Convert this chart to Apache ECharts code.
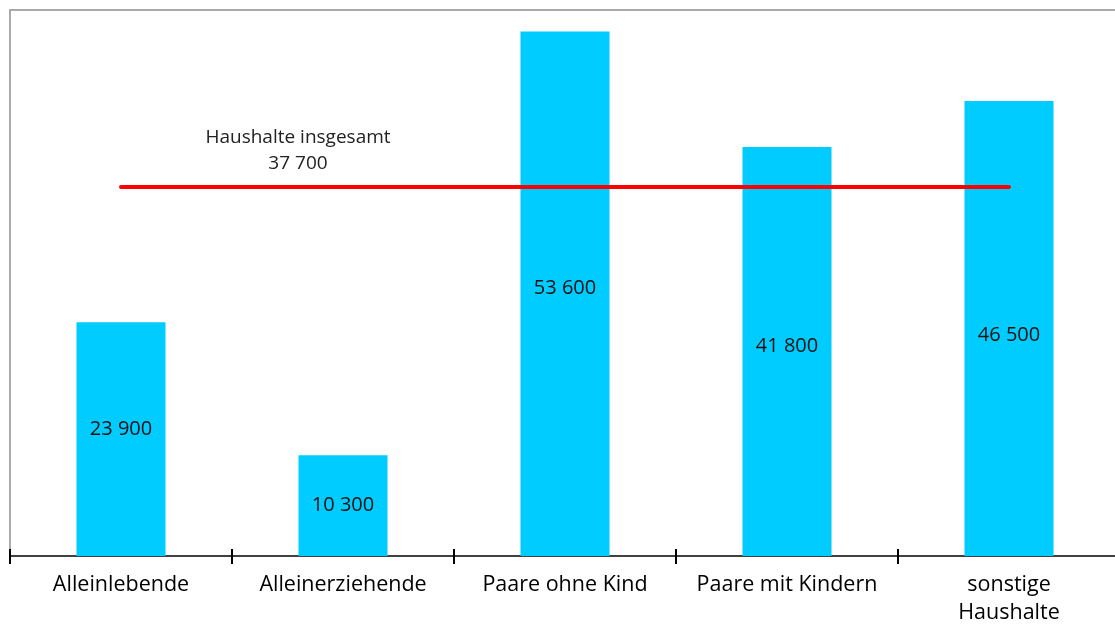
<!DOCTYPE html>
<html>
<head>
<meta charset="utf-8">
<script src="https://cdn.jsdelivr.net/npm/echarts@6/dist/echarts.min.js"></script>
<style>
html,body{margin:0;padding:0;background:#fff;}
#chart{width:1115px;height:624px;}
</style>
</head>
<body>
<div id="chart"></div>
<script>
const categories = ['Alleinlebende', 'Alleinerziehende', 'Paare ohne Kind', 'Paare mit Kindern', 'sonstige\nHaushalte'];
const incomeValues = [23900, 10300, 53600, 41800, 46500];
const totalValue = 37700;
const totalLabel = 'Haushalte insgesamt';

// styling only
const labelShiftY = [-10, 0, -5, -5, 7];

function fmt(v) { return String(v).replace(/\B(?=(\d{3})+(?!\d))/g, ' '); }

const chart = echarts.init(document.getElementById('chart'), null, {renderer: 'canvas'});
const font = 'Open Sans';

chart.setOption({
  animation: false,
  backgroundColor: '#ffffff',
  grid: {
    left: 10, top: 10, width: 1110, height: 546,
    outerBoundsMode: 'none', containLabel: false,
    show: true, borderColor: '#aaaaaa', borderWidth: 2, backgroundColor: 'transparent'
  },
  xAxis: [
    {
      type: 'category', data: categories, position: 'bottom', offset: 0,
      axisLine: {show: true, lineStyle: {color: '#404040', width: 2}},
      axisTick: {show: true, inside: false, length: 8, lineStyle: {color: '#000', width: 2}},
      axisLabel: {fontFamily: font, fontSize: 21.5, color: '#000', margin: 15, lineHeight: 28, interval: 0}
    },
    {
      type: 'category', data: categories, position: 'bottom', offset: 0,
      axisLine: {show: false},
      axisTick: {show: true, inside: true, length: 7, lineStyle: {color: '#000', width: 2}},
      axisLabel: {show: false}
    }
  ],
  yAxis: {
    type: 'value', min: 0, max: 55800, show: false,
    splitLine: {show: false}
  },
  series: [
    {
      type: 'bar', xAxisIndex: 0,
      data: incomeValues.map((v, i) => ({
        value: v,
        label: {offset: [0, labelShiftY[i]]}
      })),
      barWidth: 89,
      itemStyle: {color: '#00ccff'},
      label: {
        show: true, position: 'inside', fontFamily: font, fontSize: 20, color: '#111',
        formatter: p => fmt(p.value)
      },
      z: 2
    },
    {
      type: 'line', xAxisIndex: 0,
      data: categories.map(() => totalValue),
      symbol: 'none', showSymbol: false,
      lineStyle: {color: '#ff0000', width: 4, cap: 'round'},
      z: 5,
      markPoint: {
        symbol: 'circle', symbolSize: 0,
        data: [{
          coord: [1, totalValue],
          label: {
            show: true, position: 'inside', offset: [-45, -37],
            formatter: totalLabel + '\n' + fmt(totalValue),
            fontFamily: font, fontSize: 19, color: '#222', lineHeight: 26
          }
        }]
      }
    }
  ]
});
</script>
</body>
</html>
